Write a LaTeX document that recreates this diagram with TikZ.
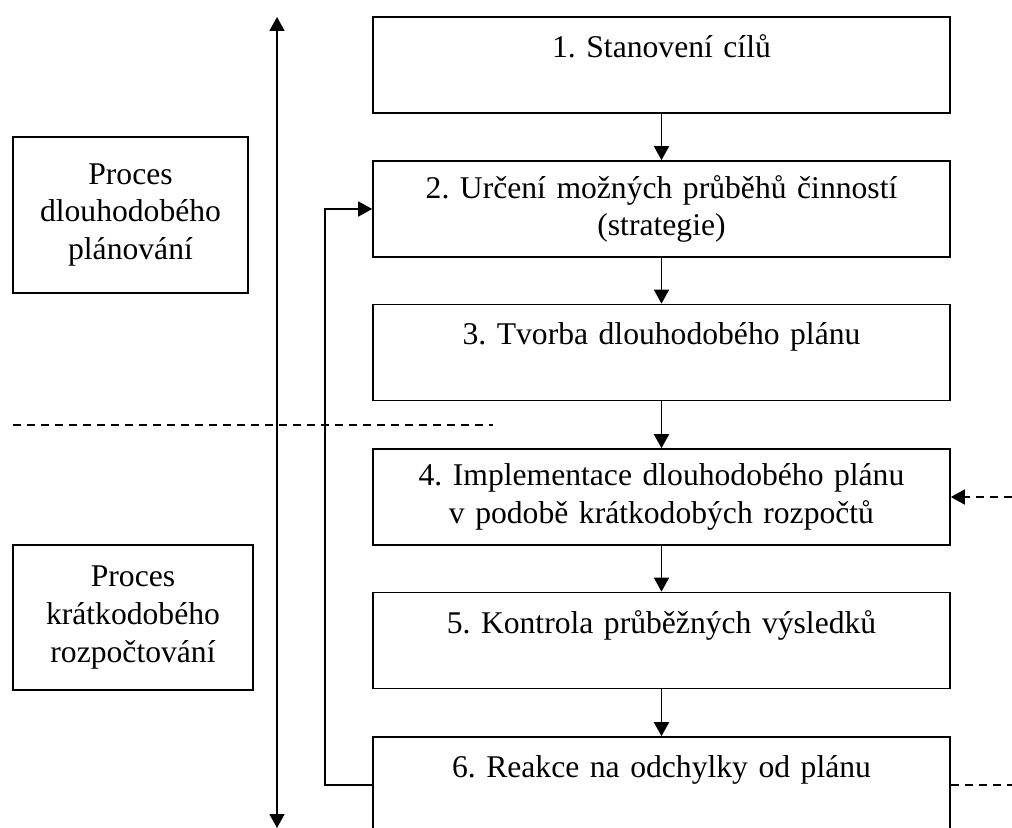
\documentclass[tikz,border=0pt]{standalone}
\usepackage{fontspec}
\setmainfont{Liberation Serif}
\usetikzlibrary{arrows.meta}
\tikzset{
	krok/.style={draw, line width=1pt, minimum width=11.54cm, minimum height=1.92cm, text width=11cm, align=center, inner sep=0pt},
	proces/.style={draw, line width=1pt, text width=4.4cm, align=center, inner sep=0pt},
	sipka/.style={-{Triangle[length=0.28cm,width=0.3cm]}, line width=1pt},
	carky/.style={line width=1pt, dash pattern=on 0.17cm off 0.11cm},
}
\frenchspacing
\begin{document}
\begin{tikzpicture}[x=0.02cm, y=-0.02cm, font=\fontsize{18}{21.4}\selectfont]
	\clip (0,0) rectangle (1012,828);
	\draw
	node[krok] at (661.5,65) (k1) {1. Stanovení cílů\\ \mbox{}}
	node[krok] at (661.5,209) (k2) {2. Určení možných průběhů činností\\(strategie)}
	node[krok] at (661.5,352.5) (k3) {3. Tvorba dlouhodobého plánu\\ \mbox{}}
	node[krok] at (661.5,497) (k4) {4. Implementace dlouhodobého plánu\\v podobě krátkodobých rozpočtů}
	node[krok] at (661.5,640.5) (k5) {5. Kontrola průběžných výsledků\\ \mbox{}}
	node[krok] at (661.5,785) (k6) {6. Reakce na odchylky od plánu\\ \mbox{}}

	node[proces, minimum width=4.7cm, minimum height=3.12cm] at (130.5,215) (dlouhy) {Proces\\dlouhodobého\\plánování}
	node[proces, minimum width=4.8cm, minimum height=2.9cm] at (133,617.5) (kratky) {Proces\\krátkodobého\\rozpočtování}
	;

	\coordinate (horni) at (277,17);
	\coordinate (stred) at (277,425);
	\coordinate (dolni) at (277,828);
	\coordinate (carkaL) at (13,425);
	\coordinate (carkaP) at (493,425);
	\coordinate (vstup) at (1012,497);
	\coordinate (vystup) at (1012,785);
	\coordinate (smycka) at (325,785);

	\draw[sipka] (k1) -- (k2);
	\draw[sipka] (k2) -- (k3);
	\draw[sipka] (k3) -- (k4);
	\draw[sipka] (k4) -- (k5);
	\draw[sipka] (k5) -- (k6);

	\draw[sipka] (stred) -- (horni);
	\draw[sipka] (stred) -- (dolni);
	\draw[carky] (carkaL) -- (carkaP);

	\draw[sipka] (k6.west) -- (smycka) |- (k2.west);
	\draw[carky, sipka] (vstup) -- (k4.east);
	\draw[carky] (k6.east) -- (vystup);
\end{tikzpicture}
\end{document}
